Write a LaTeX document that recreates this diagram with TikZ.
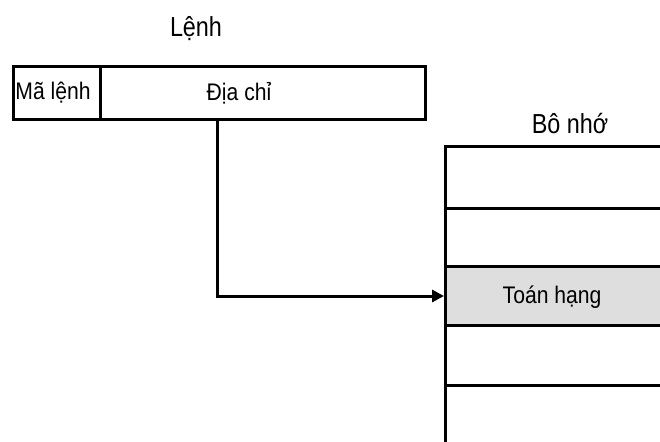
\documentclass[tikz,border=0pt]{standalone}
\usepackage{graphicx}
\usepackage{fontspec}
\setmainfont{Liberation Sans}
\usetikzlibrary{arrows.meta}
\newcommand{\nar}[2]{\scalebox{#1}[1]{#2}}
\tikzset{
  cellbox/.style={draw, line width=3pt, minimum height=53pt, inner sep=0pt, anchor=north west},
  memcell/.style={draw, line width=3pt, minimum width=236pt, inner sep=0pt, anchor=north west},
  txt/.style={font=\fontsize{24}{26}\selectfont, inner sep=0pt},
  title/.style={font=\fontsize{27.5}{30}\selectfont, inner sep=0pt},
  conn/.style={line width=3pt, -{Triangle[length=12pt,width=12pt]}}
}
\begin{document}
\begin{tikzpicture}[x=1pt,y=-1pt]
\useasboundingbox (0,0) rectangle (660,441);
\clip (0,0) rectangle (660,441);
% instruction
\node[title] (lenh) at (196,29) {\nar{0.85}{Lệnh}};
\node[cellbox, minimum width=87pt] (opc) at (12,65) {};
\node[cellbox, minimum width=325pt] (addr) at (99,65) {};
\node[txt] (opct) at (53,93) {\nar{0.88}{Mã lệnh}};
\node[txt] (addrt) at (239,93) {\nar{0.88}{Địa chỉ}};
% memory
\node[title] (mem) at (570,124) {\nar{0.85}{Bô nhớ}};
\node[memcell, minimum height=62pt] (m1) at (444,145) {};
\node[memcell, minimum height=58pt] (m2) at (444,207) {};
\node[memcell, minimum height=59pt, fill=black!13] (m3) at (444,265) {};
\node[memcell, minimum height=60pt] (m4) at (444,324) {};
\node[memcell, minimum height=80pt] (m5) at (444,384) {};
\node[txt] (opnd) at (552,297) {\nar{0.88}{Toán hạng}};
% connector
\coordinate (turn) at (217,294);
\draw[conn] (addr.south -| turn) |- (m3.west);
\end{tikzpicture}
\end{document}
